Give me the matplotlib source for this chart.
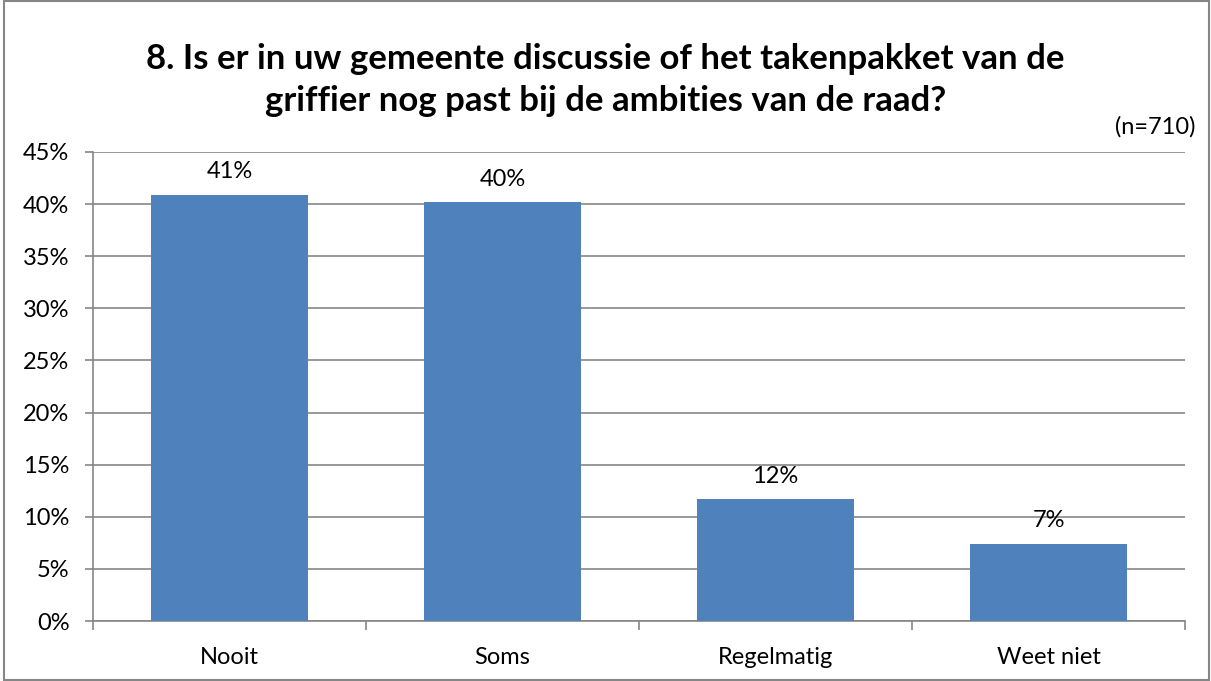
import matplotlib.pyplot as plt
from matplotlib.patches import Rectangle
from matplotlib.ticker import FixedLocator

plt.rcParams['font.family'] = ['Lato', 'DejaVu Sans']

categories = ['Nooit', 'Soms', 'Regelmatig', 'Weet niet']
values = [40.9, 40.2, 11.7, 7.4]
labels = ['41%', '40%', '12%', '7%']
title = '8. Is er in uw gemeente discussie of het takenpakket van de\ngriffier nog past bij de ambities van de raad?'
n_text = '(n=710)'

BAR_COLOR = '#4F81BD'
GRID_COLOR = '#868686'
FONTSIZE = 17

fig = plt.figure(figsize=(12.11, 6.81), dpi=100)
ax = fig.add_axes([93 / 1211, 60 / 681, 1092 / 1211, 469 / 681])

x = range(len(categories))
bars = ax.bar(x, values, width=0.575, color=BAR_COLOR, zorder=3)

for rect, lab in zip(bars, labels):
    ax.annotate(lab, (rect.get_x() + rect.get_width() / 2, rect.get_height()),
                xytext=(0, 9), textcoords='offset points',
                ha='center', va='bottom', fontsize=FONTSIZE)

ax.set_xlim(-0.5, len(categories) - 0.5)
ax.set_ylim(0, 45)
ax.set_yticks(range(0, 46, 5))
ax.set_yticklabels(['%d%%' % v for v in range(0, 46, 5)], fontsize=FONTSIZE)
ax.set_xticks(list(x))
ax.set_xticklabels(categories, fontsize=FONTSIZE)
ax.xaxis.set_minor_locator(FixedLocator([i - 0.5 for i in range(len(categories) + 1)]))
ax.tick_params(axis='x', which='major', length=0, pad=18.5)
ax.tick_params(axis='x', which='minor', length=6.5, color=GRID_COLOR, width=1.2)
ax.tick_params(axis='y', length=6, color=GRID_COLOR, width=1.2, pad=11)

ax.grid(axis='y', color=GRID_COLOR, linewidth=1.2, zorder=0)
ax.set_axisbelow(True)
for side in ['top', 'right']:
    ax.spines[side].set_visible(False)
for side in ['left', 'bottom']:
    ax.spines[side].set_color(GRID_COLOR)
    ax.spines[side].set_linewidth(1.2)

fig.text(0.5, 1 - 80 / 681, title, ha='center', va='center',
         fontsize=25, fontweight='bold', linespacing=1.35)
fig.text(1195 / 1211, 1 - 127 / 681, n_text, ha='right', va='center', fontsize=FONTSIZE)

# grey border round the whole chart
fig.patches.append(Rectangle((4 / 1211, 0.002), 1 - 6 / 1211, 0.996,
                             transform=fig.transFigure, fill=False,
                             edgecolor=GRID_COLOR, linewidth=1.5))

fig.savefig('out.png', dpi=100)
